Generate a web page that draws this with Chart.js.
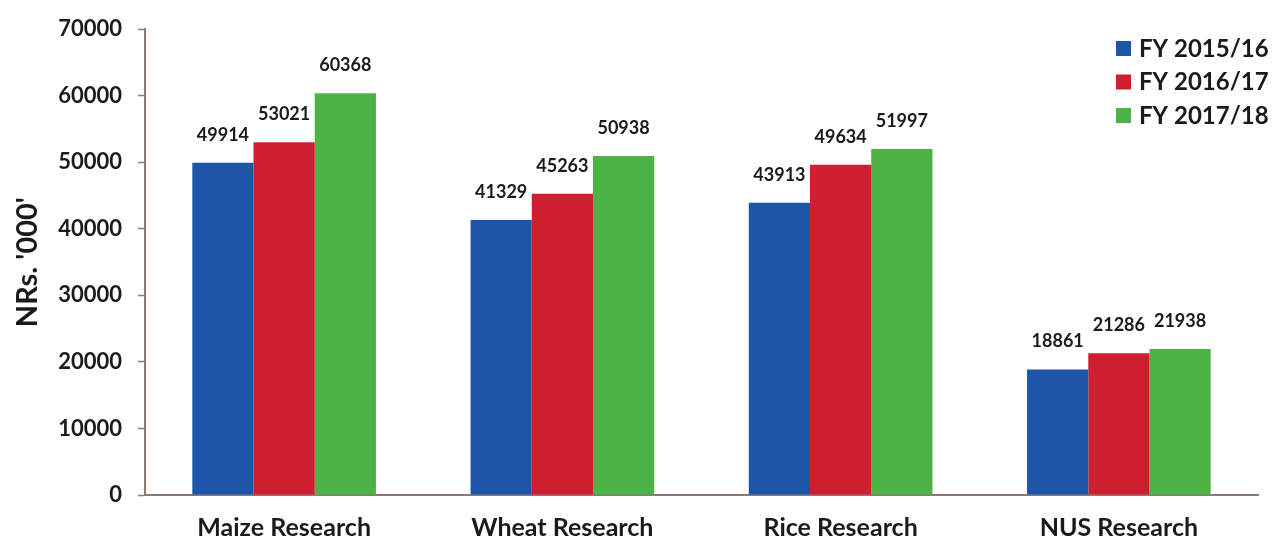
<!DOCTYPE html>
<html>
<head>
<meta charset="utf-8">
<title>Research budget by programme</title>
<script src="https://cdn.jsdelivr.net/npm/chart.js@4.4.1/dist/chart.umd.min.js"></script>
<style>
  html, body { margin: 0; padding: 0; background: #fff; }
  #wrap { width: 1276px; height: 544px; position: relative; }
</style>
</head>
<body>
<div id="wrap"><canvas id="budget-chart"></canvas></div>
<script>
// Programme categories and yearly budget (NRs. '000)
const programmes = ['Maize Research', 'Wheat Research', 'Rice Research', 'NUS Research'];
const fy1516 = [49914, 41329, 43913, 18861];
const fy1617 = [53021, 45263, 49634, 21286];
const fy1718 = [60368, 50938, 51997, 21938];
const seriesNames = ['FY 2015/16', 'FY 2016/17', 'FY 2017/18'];
const seriesColors = ['#1d56a8', '#cd1f2f', '#4db347'];
const yTicks = [0, 10000, 20000, 30000, 40000, 50000, 60000, 70000];

const FONT = 'Lato, "Open Sans", sans-serif';
const TEXT = '#1a1a1a';
const AXIS = '#8c7b73';

// Value above each bar
const valueLabels = {
    id: 'valueLabels',
    afterDatasetsDraw(chart) {
        const ctx = chart.ctx;
        ctx.save();
        ctx.font = 'bold 18px ' + FONT;
        ctx.fillStyle = TEXT;
        ctx.textAlign = 'center';
        ctx.textBaseline = 'middle';
        chart.data.datasets.forEach((ds, i) => {
            chart.getDatasetMeta(i).data.forEach((bar, j) => {
                ctx.fillText(String(ds.data[j]), bar.x, bar.y - 28);
            });
        });
        ctx.restore();
    }
};

// Legend sitting inside the plot, top right
const insideLegend = {
    id: 'insideLegend',
    afterDraw(chart) {
        const ctx = chart.ctx;
        ctx.save();
        ctx.font = 'bold 24px ' + FONT;
        ctx.textBaseline = 'middle';
        chart.data.datasets.forEach((ds, i) => {
            const y = 48 + i * 33.5;
            ctx.fillStyle = ds.backgroundColor;
            ctx.fillRect(1116, y - 7, 15, 15);
            ctx.fillStyle = TEXT;
            ctx.fillText(ds.label, 1139, y + 1);
        });
        ctx.restore();
    }
};

const datasets = [fy1516, fy1617, fy1718].map((values, i) => ({
    label: seriesNames[i],
    data: values,
    backgroundColor: seriesColors[i],
    borderWidth: 0,
    categoryPercentage: 0.66,
    barPercentage: 1.0
}));

new Chart(document.getElementById('budget-chart'), {
    type: 'bar',
    data: { labels: programmes, datasets: datasets },
    options: {
        responsive: true,
        maintainAspectRatio: false,
        animation: false,
        layout: { padding: { top: 11, right: 18, bottom: 0, left: 0 } },
        plugins: {
            legend: { display: false },
            tooltip: { enabled: false }
        },
        scales: {
            x: {
                afterFit(scale) {
                    scale.height = 49;
                },
                grid: { display: false, drawTicks: false },
                border: { color: AXIS, width: 2 },
                ticks: {
                    color: TEXT,
                    padding: 18,
                    font: { family: FONT, size: 25, weight: 'bold' }
                }
            },
            y: {
                min: 0,
                max: 70000,
                afterBuildTicks(scale) {
                    scale.ticks = yTicks.map(v => ({ value: v }));
                },
                afterFit(scale) {
                    scale.width = 145;
                },
                grid: {
                    drawOnChartArea: false,
                    drawTicks: true,
                    tickLength: 7,
                    tickColor: AXIS,
                    tickWidth: 1.5
                },
                border: { color: AXIS, width: 2 },
                ticks: {
                    color: TEXT,
                    padding: 16,
                    callback: v => String(v),
                    font: { family: FONT, size: 22, weight: 'bold' }
                },
                title: {
                    display: true,
                    text: "NRs. '000'",
                    color: TEXT,
                    padding: { top: 10, bottom: 0 },
                    font: { family: FONT, size: 29, weight: 'bold' }
                }
            }
        }
    },
    plugins: [valueLabels, insideLegend]
});
</script>
</body>
</html>
